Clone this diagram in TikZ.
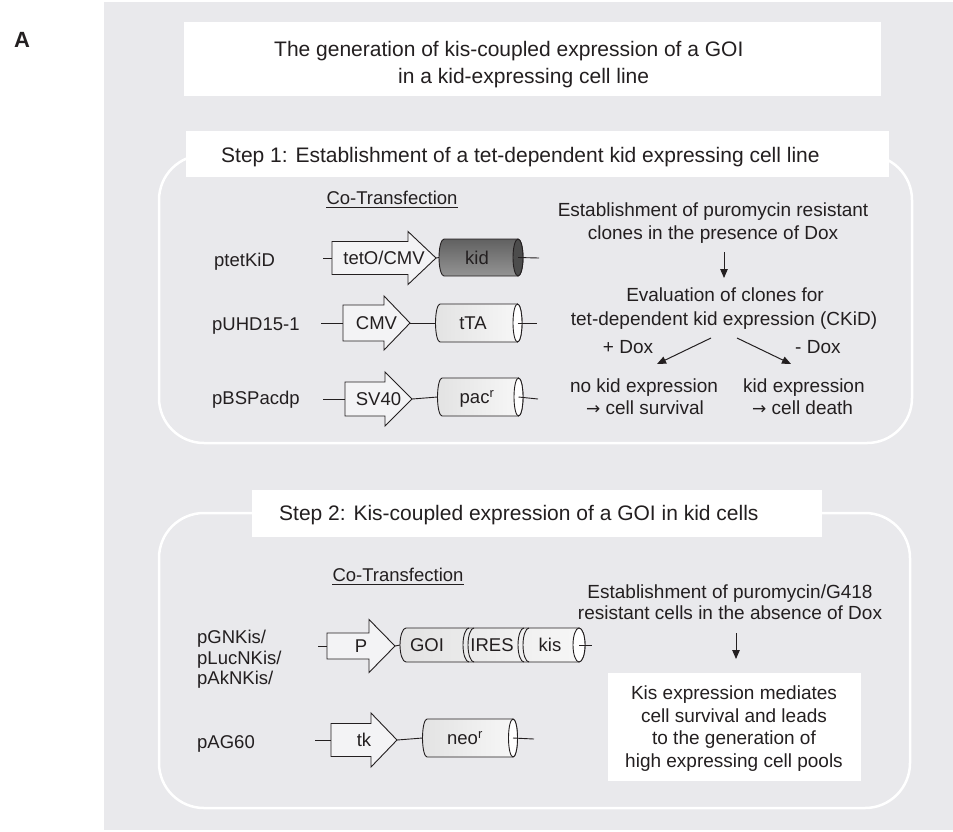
\documentclass[tikz,border=0pt]{standalone}
\usepackage{fontspec}
\setmainfont{Liberation Sans}
\newfontfamily\arrowfont{DejaVu Sans}
\usetikzlibrary{arrows.meta}
\definecolor{panel}{RGB}{233,233,236}
\definecolor{ink}{RGB}{35,31,32}
\definecolor{promfill}{RGB}{243,243,245}

% promoter arrow: name, body left x, head start x, tip x, y, body half height, head half height, text
\newcommand\promoter[8]{%
  \draw[prom] (#2,#5-#6) -- (#3,#5-#6) -- (#3,#5-#7) -- (#4,#5) -- (#3,#5+#7)
    -- (#3,#5+#6) -- (#2,#5+#6) -- cycle;
  \node[lab, minimum width={(#4-#2)*1pt}] (#1) at ({(#2+#4)/2},#5) {#8};}

% gene cylinder: name, left arc centre x, end centre x, y, half height, end radius, body shading, end fill
\newcommand\genecyl[8]{%
  \shade[#7] (#2,#4-#5) -- (#3,#4-#5) arc[start angle=-90,end angle=90,x radius=#6,y radius=#5]
    -- (#2,#4+#5) arc[start angle=90,end angle=270,x radius=#6,y radius=#5] -- cycle;
  \draw[cylline] (#2,#4-#5) -- (#3,#4-#5) arc[start angle=-90,end angle=90,x radius=#6,y radius=#5]
    -- (#2,#4+#5) arc[start angle=90,end angle=270,x radius=#6,y radius=#5] -- cycle;
  \filldraw[cylline, fill=#8] (#3,#4) ellipse[x radius=#6, y radius=#5];
  \coordinate (#1-w) at ({#2-#6},#4);
  \coordinate (#1-e) at (#3,#4);}

\newcommand\thenarrow{{\arrowfont\fontsize{17}{20}\selectfont →}}

\begin{document}
\begin{tikzpicture}[x=1pt,y=1pt,yscale=-1,
  lab/.style={text=ink, inner sep=0pt, font=\fontsize{18.5}{22}\selectfont,
    text height=13.2pt, text depth=0pt},
  txt/.style={text=ink, inner sep=0pt, font=\fontsize{19}{22}\selectfont,
    text height=13.6pt, text depth=0pt},
  head/.style={text=ink, inner sep=0pt, font=\fontsize{21}{25}\selectfont,
    text height=15pt, text depth=0pt},
  prom/.style={draw=ink, fill=promfill, line width=0.9pt, line join=miter},
  cylline/.style={draw=ink, line width=0.9pt},
  conn/.style={draw=ink, line width=0.9pt},
  flow/.style={draw=ink, line width=1pt, -{Triangle[length=9pt,width=7.5pt]}},
  whitebox/.style={fill=white, inner sep=0pt},
  frame/.style={draw=white, line width=2.5pt, rounded corners=45pt},
  lightcyl/.style={left color=black!11, middle color=white, right color=white!97!black},
  darkcyl/.style={top color=black!62, middle color=black!20, bottom color=black!42},
]
\useasboundingbox (0,0) rectangle (953,831);
\fill[panel] (104,2) rectangle (953,830);
\node[text=ink, inner sep=0pt, font=\fontsize{22}{26}\selectfont\bfseries,
  text height=15.8pt, text depth=0pt] (lblA) at (22,40) {A};

% rounded frames of the two steps
\draw[frame] (159,155) rectangle (912,443);
\draw[frame] (159,513) rectangle (910,808);

% title and step headers
\node[whitebox, minimum width=697pt, minimum height=74pt] (titlebox) at (532.5,59) {};
\node[head, anchor=west] (title1) at (274,49) {The generation of kis-coupled expression of a GOI};
\node[head, anchor=west] (title2) at (398,76) {in a kid-expressing cell line};
\node[whitebox, minimum width=703pt, minimum height=46pt] (step1box) at (537.5,154) {};
\node[head, anchor=west] (step1) at (221,155) {Step 1: Establishment of a tet-dependent kid expressing cell line};
\node[whitebox, minimum width=570pt, minimum height=47pt] (step2box) at (537,513.5) {};
\node[head, anchor=west] (step2) at (279,513) {Step 2: Kis-coupled expression of a GOI in kid cells};

% ---------- step 1: constructs ----------
\node[lab] (ct1) at (392,198) {Co-Transfection};
\draw[conn, line width=0.8pt] ([yshift=2.2pt]ct1.south west) -- ([yshift=2.2pt]ct1.south east);

\node[lab, anchor=west] (n1) at (214,260) {ptetKiD};
\coordinate (s1) at (323,258);
\promoter{p1}{332}{408}{436}{258}{16.5}{26.5}{tetO/CMV}
\genecyl{g1}{444}{518}{257.5}{18.5}{5}{darkcyl}{black!70}
\node[lab] (g1t) at (477,257.5) {kid};
\coordinate (e1) at (539,258);
\draw[conn] (s1) -- (p1.west);
\draw[conn] (p1.east) -- (g1-w);
\draw[conn] (g1-e) -- (e1);

\node[lab, anchor=west] (n2) at (212,324) {pUHD15-1};
\coordinate (s2) at (321,323);
\promoter{p2}{343}{384}{410}{323}{18}{27}{CMV}
\genecyl{g2}{440}{517.5}{323}{19}{4.5}{lightcyl}{white}
\node[lab] (g2t) at (473,323) {tTA};
\coordinate (e2) at (537,323);
\draw[conn] (s2) -- (p2.west);
\draw[conn] (p2.east) -- (g2-w);
\draw[conn] (g2-e) -- (e2);

\node[lab, anchor=west] (n3) at (212,398) {pBSPacdp};
\coordinate (s3) at (323,399);
\promoter{p3}{345}{385}{412}{399}{17}{27}{SV40}
\genecyl{g3}{442}{518.5}{397}{19}{4.5}{lightcyl}{white}
\node[lab] (g3t) at (477,397) {pac\textsuperscript{r}};
\coordinate (e3) at (538,399);
\draw[conn] (s3) -- (p3.west);
\draw[conn] (p3.east) -- (g3-w);
\draw[conn] (g3-e) -- (e3);

% ---------- step 1: selection ----------
\node[txt] (r1) at (713,210) {Establishment of puromycin resistant};
\node[txt] (r2) at (713,233) {clones in the presence of Dox};
\coordinate (d1a) at (724,252);
\coordinate (d1b) at (724,278);
\draw[flow] (d1a) -- (d1b);
\node[txt] (r3) at (725,295) {Evaluation of clones for};
\node[txt] (r4) at (724,319) {tet-dependent kid expression (CKiD)};
\coordinate (aL) at (711,338);
\coordinate (aR) at (737,338);
\coordinate (bL) at (657,364);
\coordinate (bR) at (791,364);
\draw[flow] (aL) -- (bL);
\draw[flow] (aR) -- (bR);
\node[txt] (plus) at (628,347) {+ Dox};
\node[txt, anchor=west] (minus) at (795,347) {- Dox};
\node[txt] (o1) at (644,386) {no kid expression};
\node[txt] (o2) at (645,408) {\thenarrow\ cell survival};
\node[txt, anchor=west] (o3) at (743,386) {kid expression};
\node[txt, anchor=west] (o4) at (752,408) {\thenarrow\ cell death};

% ---------- step 2: constructs ----------
\node[lab] (ct2) at (398,575) {Co-Transfection};
\draw[conn, line width=0.8pt] ([yshift=2.2pt]ct2.south west) -- ([yshift=2.2pt]ct2.south east);

\node[lab, anchor=west] (n4) at (197,637) {pGNKis/};
\node[lab, anchor=west] (n5) at (197,658) {pLucNKis/};
\node[lab, anchor=west] (n6) at (197,678) {pAkNKis/};
\coordinate (s4) at (318,646);
\promoter{p4}{327}{369}{395}{646}{13}{26.5}{P}
\genecyl{g4}{406}{579}{645}{17}{6}{lightcyl}{white}
\foreach \xc in {469,474,524,529}
  \draw[cylline] (\xc,645+17) arc[start angle=90,end angle=270,x radius=6,y radius=17];
\node[lab] (g4a) at (427,645) {GOI};
\node[lab] (g4b) at (492,645) {IRES};
\node[lab] (g4c) at (550,645) {kis};
\coordinate (e4) at (592,645);
\draw[conn] (s4) -- (p4.west);
\draw[conn] (p4.east) -- (g4-w);
\draw[conn] (g4-e) -- (e4);

\node[lab, anchor=west] (n7) at (197,742) {pAG60};
\coordinate (s5) at (315,740);
\promoter{p5}{331}{371}{397}{740}{16.5}{27}{tk}
\genecyl{g5}{427}{513}{738}{19}{4.5}{lightcyl}{white}
\node[lab] (g5t) at (465,738) {neo\textsuperscript{r}};
\coordinate (e5) at (534,739);
\draw[conn] (s5) -- (p5.west);
\draw[conn] (p5.east) -- (g5-w);
\draw[conn] (g5-e) -- (e5);

% ---------- step 2: selection ----------
\node[txt] (r5) at (730,592) {Establishment of puromycin/G418};
\node[txt] (r6) at (730,613) {resistant cells in the absence of Dox};
\coordinate (d2a) at (736,633);
\coordinate (d2b) at (736,659);
\draw[flow] (d2a) -- (d2b);
\node[whitebox, minimum width=253pt, minimum height=108pt] (resbox) at (734.5,727) {};
\node[txt] (q1) at (734,693) {Kis expression mediates};
\node[txt] (q2) at (734,716) {cell survival and leads};
\node[txt] (q3) at (734,738) {to the generation of};
\node[txt] (q4) at (734,761) {high expressing cell pools};
\end{tikzpicture}
\end{document}
